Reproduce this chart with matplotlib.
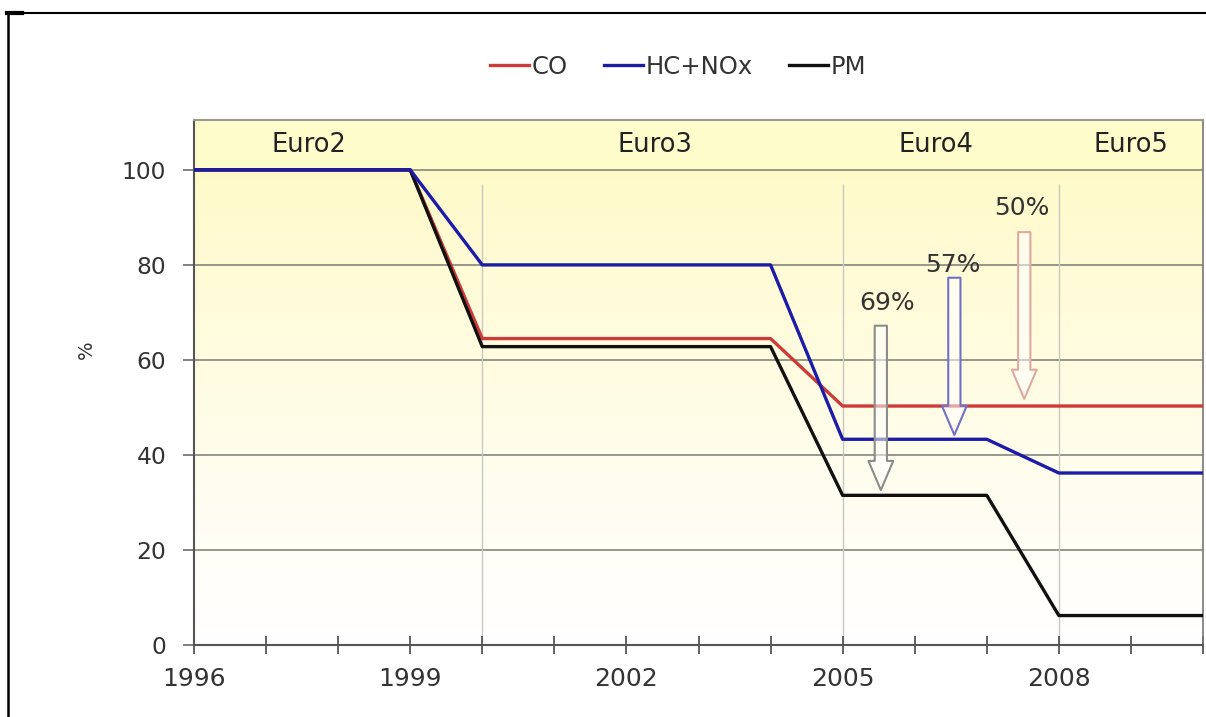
import numpy as np
import matplotlib
matplotlib.use("Agg")
import matplotlib.pyplot as plt
from matplotlib.patches import FancyArrowPatch
from matplotlib.lines import Line2D

# Emission limits relative to Euro2 (%)
years_co = [1996, 1999, 2000, 2004, 2005, 2010]
co = [100, 100, 64.5, 64.5, 50.3, 50.3]
years_hc = [1996, 1999, 2000, 2004, 2005, 2007, 2008, 2010]
hc_nox = [100, 100, 80, 80, 43.3, 43.3, 36.2, 36.2]
years_pm = [1996, 1999, 2000, 2004, 2005, 2007, 2008, 2010]
pm = [100, 100, 62.8, 62.8, 31.5, 31.5, 6.2, 6.2]

# Euro stages shown in the top band
stage_names = ["Euro2", "Euro3", "Euro4", "Euro5"]
stage_x = [1997.6, 2002.4, 2006.3, 2009.0]
stage_bounds = [2000, 2005, 2008]

# Reduction arrows: label, x, top, tip
red_labels = ["69%", "57%", "50%"]
red_x = [2005.53, 2006.55, 2007.52]
red_top = [67.2, 77.3, 86.9]
red_tip = [32.6, 44.2, 51.8]
red_label_x = [2005.61, 2006.53, 2007.49]
red_label_y = [72.0, 80.0, 92.0]
red_colors = ["#8c8c8c", "#7070c8", "#dcaaa2"]

fig = plt.figure(figsize=(12.06, 7.17), dpi=100)
ax = fig.add_axes([194 / 1206, 1 - 645 / 717, 1009 / 1206, 525 / 717])

x0, x1 = 1996, 2010
ax.set_xlim(x0, x1)
ax.set_ylim(0, 110.5)

# yellow-to-white background
n = 256
t = np.linspace(0, 1, n)[:, None]
fade = t ** 1.1
top_col = np.array([1.0, 0.98, 0.79])
img = np.ones((n, 1, 3)) * (1 - fade[..., None]) + top_col * fade[..., None]
ax.imshow(img, extent=[x0, x1, 0, 100], origin="lower", aspect="auto", zorder=0)
ax.axhspan(100, 110.5, color="#fffccb", zorder=0)

# grid
for yv in range(20, 101, 20):
    ax.axhline(yv, color="#8f8f84", lw=1.3, zorder=1)
ax.vlines(stage_bounds, 0, 97, color="#c8c8c0", lw=1.0, zorder=1)

ax.plot(years_co, co, color="#cc3a3a", lw=2.4, label="CO", zorder=3)
ax.plot(years_hc, hc_nox, color="#1c1ca8", lw=2.4, label="HC+NOx", zorder=4)
ax.plot(years_pm, pm, color="#111111", lw=2.4, label="PM", zorder=3)

for name, xs in zip(stage_names, stage_x):
    ax.text(xs, 105.3, name, ha="center", va="center", fontsize=18.5, color="#222222")

for xa, ytop, ytip, c in zip(red_x, red_top, red_tip, red_colors):
    arr = FancyArrowPatch((xa, ytop), (xa, ytip),
                          arrowstyle="simple,head_length=1.0,head_width=0.85,tail_width=0.42",
                          mutation_scale=21, shrinkA=0, shrinkB=0,
                          facecolor=(1, 1, 1, 0.55), edgecolor=c, lw=1.5, zorder=5)
    ax.add_patch(arr)
for lab, lx, ly in zip(red_labels, red_label_x, red_label_y):
    ax.text(lx, ly, lab, ha="center", va="center", fontsize=18, color="#333333")

# axes styling
for s in ["left", "bottom"]:
    ax.spines[s].set_color("#555555")
    ax.spines[s].set_linewidth(1.5)
ax.spines["top"].set_color("#9a9a90")
ax.spines["top"].set_linewidth(1.5)
ax.spines["right"].set_color("#777777")
ax.spines["right"].set_linewidth(1.2)

ax.set_xticks(np.arange(1996, 2011, 1))
ax.set_xticklabels([str(y) if (y - 1996) % 3 == 0 else "" for y in range(1996, 2011)])
ax.set_yticks(range(0, 101, 20))
ax.tick_params(axis="x", direction="inout", length=13, width=1.3, color="#555555",
               labelsize=18, labelcolor="#333333", pad=9)
ax.tick_params(axis="y", direction="out", length=8, width=1.3, color="#777777",
               labelsize=16.8, labelcolor="#333333", pad=12)

fig.text(86 / 1206, 1 - 350 / 717, "%", rotation=90, ha="center", va="center",
         fontsize=14, color="#333333")

fig.legend(loc="center", bbox_to_anchor=(678 / 1206, 1 - 67 / 717), ncol=3, frameon=False,
           fontsize=17.5, handlelength=1.6, handletextpad=0.1, columnspacing=1.5,
           labelcolor="#333333")

# outer frame (left and top edges)
fig.add_artist(Line2D([7.5 / 1206, 7.5 / 1206], [0, 1 - 12 / 717], color="black", lw=1.8,
                      transform=fig.transFigure))
fig.add_artist(Line2D([7 / 1206, 1], [1 - 12.5 / 717, 1 - 12.5 / 717], color="black", lw=1.5,
                      transform=fig.transFigure))
fig.add_artist(Line2D([7 / 1206, 22 / 1206], [1 - 13 / 717, 1 - 13 / 717], color="black", lw=3,
                      transform=fig.transFigure))

fig.savefig("out.png", dpi=100)
